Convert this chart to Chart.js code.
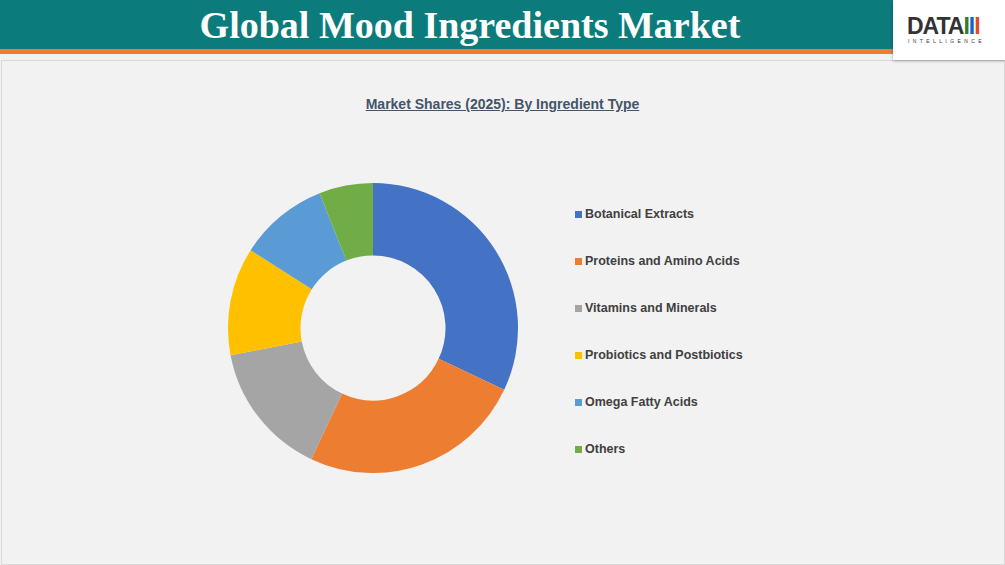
<!DOCTYPE html>
<html><head><meta charset="utf-8">
<script src="https://cdn.jsdelivr.net/npm/chart.js@4"></script>
<style>
body{margin:0;width:1005px;height:565px;background:#f2f2f2;font-family:"Liberation Sans",Arial,sans-serif;position:relative;overflow:hidden}
#hdr{position:absolute;left:0;top:0;width:1005px;height:49px;background:#0b7b7b}
#hdr h1{margin:0;position:absolute;left:0;width:940px;text-align:center;top:3px;font-family:"Liberation Serif","Times New Roman",serif;font-size:38px;color:#fff;font-weight:bold}
#line{position:absolute;left:0;top:49px;width:1005px;height:5px;background:#ed7d31}
#logo{position:absolute;left:893px;top:0;width:112px;height:60px;background:#fff;box-shadow:0 1px 3px rgba(0,0,0,.3)}
#logo .t{position:absolute;left:14px;top:13px;font:bold 23px "Liberation Sans",Arial;color:#333;letter-spacing:-1px}
#logo .s{position:absolute;left:15px;top:38px;font:5px "Liberation Sans",Arial;letter-spacing:3.4px;color:#333}
#frame{position:absolute;left:1px;top:60px;width:1002px;height:503px;border:1px solid #d9d9d9}
#title{position:absolute;left:0;width:1005px;top:96px;padding-left:0;text-align:center;font-weight:bold;font-size:14px;color:#44546a;text-decoration:underline}
#wrap{position:absolute;left:228px;top:183px;width:290px;height:290px}
#legend{position:absolute;left:575px;top:207px}
.li{height:47px;font-size:12.5px;font-weight:bold;color:#404040;display:flex;align-items:flex-start}
.li span{display:inline-block;width:7px;height:7px;margin:4px 3px 0 0}
</style></head><body>
<div id="hdr"><h1>Global Mood Ingredients Market</h1></div>
<div id="line"></div>
<div id="frame"></div>
<div id="logo"><div class="t">DATA<span style="color:#2e7d32">I</span><span style="color:#1565c0">I</span><span style="color:#e64a19">I</span></div><div class="s">INTELLIGENCE</div></div>
<div id="title">Market Shares (2025): By Ingredient Type</div>
<div id="wrap"><canvas id="c"></canvas></div>
<div id="legend"></div>
<script>
const categories = ["Botanical Extracts","Proteins and Amino Acids","Vitamins and Minerals","Probiotics and Postbiotics","Omega Fatty Acids","Others"];
const shares = [32, 25, 15, 12, 10, 6];
const colors = ["#4472c4","#ed7d31","#a5a5a5","#ffc000","#5b9bd5","#70ad47"];

const lg = document.getElementById('legend');
categories.forEach((c, i) => {
  const d = document.createElement('div');
  d.className = 'li';
  d.innerHTML = '<span style="background:' + colors[i] + '"></span>' + c;
  lg.appendChild(d);
});

new Chart(document.getElementById('c'), {
  type: 'doughnut',
  data: { labels: categories, datasets: [{ data: shares, backgroundColor: colors, borderWidth: 0 }] },
  options: {
    responsive: true, maintainAspectRatio: false, animation: false,
    cutout: '50%',
    plugins: { legend: { display: false }, tooltip: { enabled: false } }
  }
});
</script>
</body></html>
